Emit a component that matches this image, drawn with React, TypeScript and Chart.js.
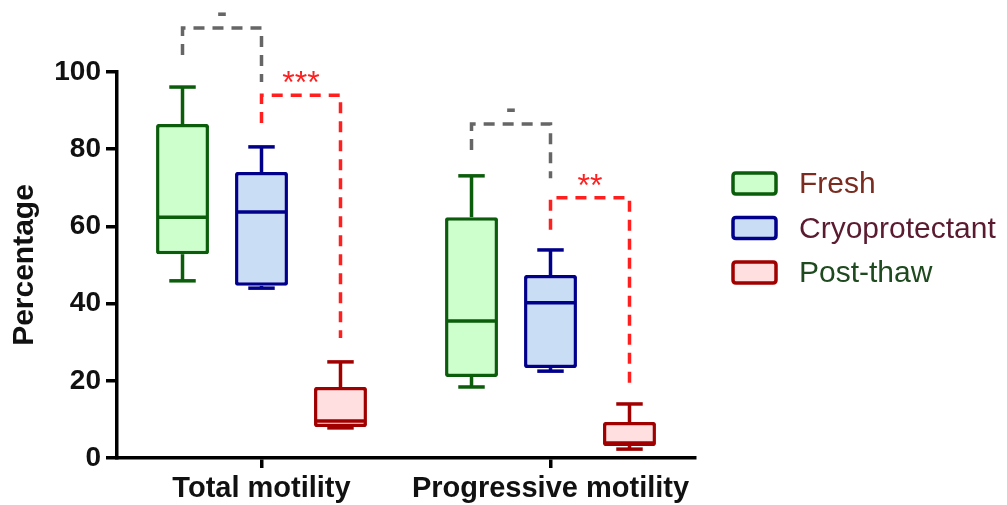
import React, { useEffect, useRef } from 'react';
import { Chart, registerables } from 'chart.js';

Chart.register(...registerables);

// ---------- data ----------
const categories = ['Total motility', 'Progressive motility'];
const seriesNames = ['Fresh', 'Cryoprotectant', 'Post-thaw'];

const freshMin = [45.9, 18.4];
const freshQ1 = [52.8, 21.0];
const freshMedian = [62.4, 35.5];
const freshQ3 = [86.5, 62.4];
const freshMax = [96.1, 73.1];

const cryoMin = [44.0, 22.5];
const cryoQ1 = [44.6, 23.3];
const cryoMedian = [63.7, 40.2];
const cryoQ3 = [74.1, 47.4];
const cryoMax = [80.6, 53.9];

const postMin = [7.8, 2.3];
const postQ1 = [8.0, 3.1];
const postMedian = [9.6, 3.9];
const postQ3 = [18.4, 9.3];
const postMax = [24.9, 14.0];

const yTickValues = [0, 20, 40, 60, 80, 100];

// significance brackets (values in data units)
const bracketCategory = [0, 0, 1, 1];
const bracketFrom = [0, 1, 0, 1];
const bracketTo = [1, 2, 1, 2];
const bracketStart = [104.4, 86.8, 79.8, 59.1];
const bracketTop = [111.4, 94.0, 86.5, 67.4];
const bracketEnd = [97.4, 31.1, 72.5, 18.9];
const bracketLabels = ['-', '***', '-', '**'];

// ---------- styles ----------
const FONT = "'Liberation Sans', Arial, Helvetica, sans-serif";
const borderColors = ['#0b5d0b', '#00008b', '#a00000'];
const fillColors = ['#ccffcc', '#c9ddf5', '#ffdfdf'];
const legendTextColors = ['#7a2c20', '#5a1a30', '#1f4a1f'];
const bracketColors = ['#666666', '#ff1f1f', '#666666', '#ff1f1f'];
const LW = 3.5;

const stats = [
  { min: freshMin, q1: freshQ1, med: freshMedian, q3: freshQ3, max: freshMax },
  { min: cryoMin, q1: cryoQ1, med: cryoMedian, q3: cryoQ3, max: cryoMax },
  { min: postMin, q1: postQ1, med: postMedian, q3: postQ3, max: postMax },
];

function hLine(ctx: CanvasRenderingContext2D, x1: number, x2: number, y: number) {
  ctx.beginPath();
  ctx.moveTo(x1, y);
  ctx.lineTo(x2, y);
  ctx.stroke();
}
function vLine(ctx: CanvasRenderingContext2D, x: number, y1: number, y2: number) {
  ctx.beginPath();
  ctx.moveTo(x, y1);
  ctx.lineTo(x, y2);
  ctx.stroke();
}

const boxPlugin = {
  id: 'boxWhiskers',
  afterDatasetsDraw(chart: any) {
    const ctx = chart.ctx as CanvasRenderingContext2D;
    const y = chart.scales.y;
    chart.data.datasets.forEach((ds: any, di: number) => {
      const meta = chart.getDatasetMeta(di);
      const s = stats[di];
      meta.data.forEach((bar: any, i: number) => {
        const { x, width } = bar.getProps(['x', 'width'], true);
        const half = width / 2;
        const cap = width / 4;
        ctx.save();
        ctx.strokeStyle = ds.borderColor;
        ctx.lineWidth = LW;
        ctx.lineCap = 'butt';
        const yq3 = y.getPixelForValue(s.q3[i]);
        const yq1 = y.getPixelForValue(s.q1[i]);
        const ymax = y.getPixelForValue(s.max[i]);
        const ymin = y.getPixelForValue(s.min[i]);
        const ymed = y.getPixelForValue(s.med[i]);
        hLine(ctx, x - half + 1, x + half - 1, ymed);
        vLine(ctx, x, yq3, ymax);
        hLine(ctx, x - cap, x + cap, ymax);
        vLine(ctx, x, yq1, ymin);
        hLine(ctx, x - cap, x + cap, ymin);
        ctx.restore();
      });
    });
  },
};

const bracketPlugin = {
  id: 'brackets',
  afterDraw(chart: any) {
    const ctx = chart.ctx as CanvasRenderingContext2D;
    const y = chart.scales.y;
    bracketLabels.forEach((label, b) => {
      const cat = bracketCategory[b];
      const x1 = chart.getDatasetMeta(bracketFrom[b]).data[cat].x;
      const x2 = chart.getDatasetMeta(bracketTo[b]).data[cat].x;
      const yS = y.getPixelForValue(bracketStart[b]);
      const yT = y.getPixelForValue(bracketTop[b]);
      const yE = y.getPixelForValue(bracketEnd[b]);
      ctx.save();
      ctx.strokeStyle = bracketColors[b];
      ctx.lineWidth = LW;
      ctx.setLineDash([11, 8]);
      ctx.beginPath();
      ctx.moveTo(x1, yS);
      ctx.lineTo(x1, yT);
      ctx.lineTo(x2, yT);
      ctx.lineTo(x2, yE);
      ctx.stroke();
      ctx.setLineDash([]);
      ctx.fillStyle = bracketColors[b];
      const isDash = label === '-';
      ctx.font = isDash ? `bold 30px ${FONT}` : `32px ${FONT}`;
      ctx.textAlign = 'center';
      ctx.textBaseline = 'alphabetic';
      ctx.fillText(label, (x1 + x2) / 2, isDash ? yT - 6 : yT - 2);
      ctx.restore();
    });
  },
};

function roundRect(ctx: CanvasRenderingContext2D, x: number, y: number, w: number, h: number, r: number) {
  ctx.beginPath();
  ctx.moveTo(x + r, y);
  ctx.lineTo(x + w - r, y);
  ctx.quadraticCurveTo(x + w, y, x + w, y + r);
  ctx.lineTo(x + w, y + h - r);
  ctx.quadraticCurveTo(x + w, y + h, x + w - r, y + h);
  ctx.lineTo(x + r, y + h);
  ctx.quadraticCurveTo(x, y + h, x, y + h - r);
  ctx.lineTo(x, y + r);
  ctx.quadraticCurveTo(x, y, x + r, y);
  ctx.closePath();
}

const legendPlugin = {
  id: 'customLegend',
  afterDraw(chart: any) {
    const ctx = chart.ctx as CanvasRenderingContext2D;
    const left = chart.chartArea.right + 38;
    const top0 = 173;
    const step = 44.5;
    chart.data.datasets.forEach((ds: any, i: number) => {
      const top = top0 + i * step;
      ctx.save();
      roundRect(ctx, left, top, 43, 21, 3);
      ctx.fillStyle = ds.backgroundColor;
      ctx.fill();
      ctx.strokeStyle = ds.borderColor;
      ctx.lineWidth = LW;
      ctx.stroke();
      ctx.fillStyle = legendTextColors[i];
      ctx.font = `30px ${FONT}`;
      ctx.textAlign = 'left';
      ctx.textBaseline = 'middle';
      ctx.fillText(ds.label, left + 66, top + 12);
      ctx.restore();
    });
  },
};

export default function App() {
  const ref = useRef<HTMLCanvasElement | null>(null);

  useEffect(() => {
    if (!ref.current) return;
    const chart = new Chart(ref.current, {
      type: 'bar',
      data: {
        labels: categories,
        datasets: seriesNames.map((name, i) => ({
          label: name,
          data: stats[i].q1.map((q1, k) => [q1, stats[i].q3[k]]),
          backgroundColor: fillColors[i],
          borderColor: borderColors[i],
          borderWidth: LW,
          borderSkipped: false,
          borderRadius: 2,
          categoryPercentage: 0.82,
          barPercentage: 0.67,
        })) as any,
      },
      options: {
        animation: false,
        responsive: false,
        maintainAspectRatio: false,
        layout: { padding: { top: 72, right: 312, left: 0, bottom: 0 } },
        plugins: {
          legend: { display: false },
          tooltip: { enabled: false },
        },
        scales: {
          x: {
            type: 'category',
            grid: {
              display: true,
              drawOnChartArea: false,
              drawTicks: true,
              tickLength: 10,
              lineWidth: LW,
              color: '#000',
              offset: false,
            },
            border: { display: true, width: LW, color: '#000' },
            ticks: {
              font: { family: FONT, size: 29, weight: 'bold' },
              color: '#111',
              padding: 4,
              maxRotation: 0,
            },
            afterFit: (s: any) => {
              s.height = 47;
            },
          },
          y: {
            min: 0,
            max: 100,
            grid: {
              display: true,
              drawOnChartArea: false,
              drawTicks: true,
              tickLength: 11,
              lineWidth: LW,
              color: '#000',
            },
            border: { display: true, width: LW, color: '#000' },
            ticks: {
              stepSize: 20,
              font: { family: FONT, size: 28, weight: 'bold' },
              color: '#111',
              padding: 5,
            },
            afterBuildTicks: (s: any) => {
              s.ticks = yTickValues.map((v) => ({ value: v }));
            },
            title: {
              display: true,
              text: 'Percentage',
              font: { family: FONT, size: 30, weight: 'bold' },
              color: '#111',
              padding: { top: 7, bottom: 0 },
            },
            afterFit: (s: any) => {
              s.width = 117;
            },
          },
        },
      } as any,
      plugins: [boxPlugin, bracketPlugin, legendPlugin],
    });
    return () => chart.destroy();
  }, []);

  return (
    <div style={{ position: 'fixed', left: 0, top: 0, width: 1007, height: 505, background: '#fff' }}>
      <canvas ref={ref} width={1007} height={505} />
    </div>
  );
}
